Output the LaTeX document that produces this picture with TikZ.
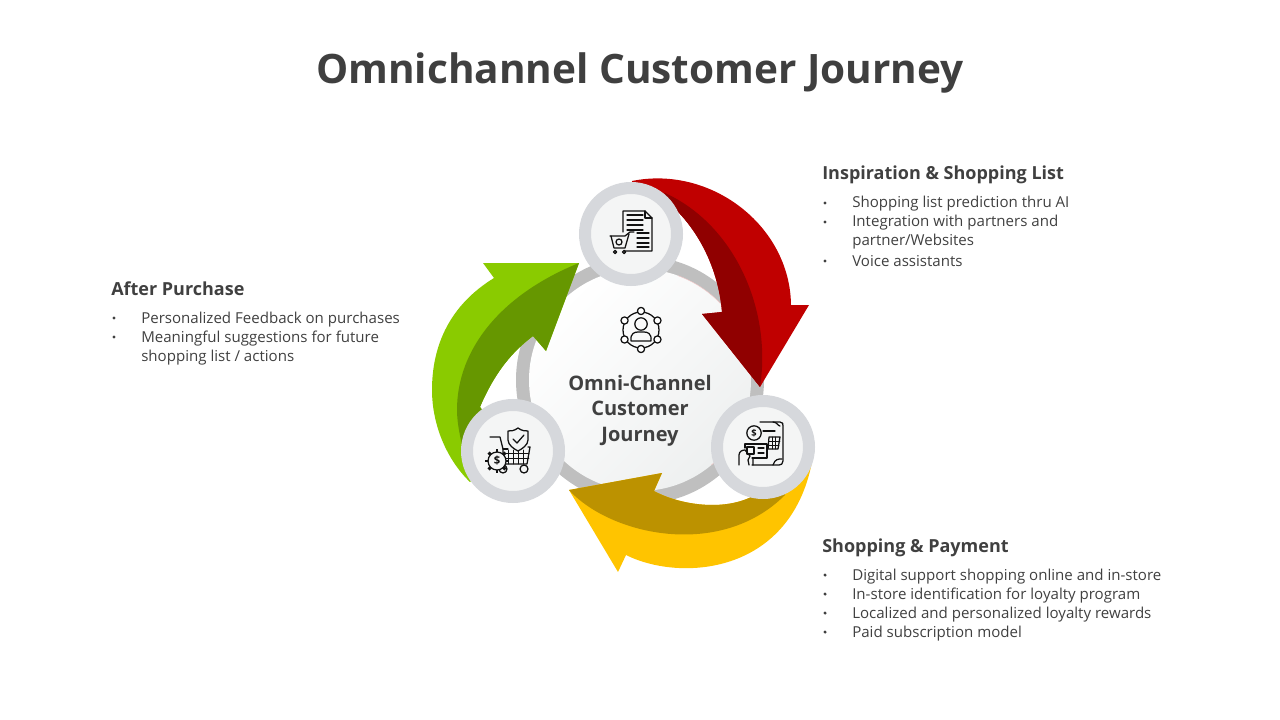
\documentclass[tikz,border=0pt]{standalone}
\usepackage{fontspec}
\setmainfont{Open Sans}
\definecolor{ttl}{HTML}{3F3F3F}
\definecolor{bodyc}{HTML}{404040}
\definecolor{ringc}{HTML}{BFBFBF}
\definecolor{cring}{HTML}{D6D8DC}
\definecolor{cfill}{HTML}{F4F5F5}
\definecolor{redA}{HTML}{C00000}
\definecolor{redB}{HTML}{900000}
\definecolor{grnA}{HTML}{8ACB00}
\definecolor{grnB}{HTML}{669700}
\definecolor{ylwA}{HTML}{FFC400}
\definecolor{ylwB}{HTML}{BC9200}
\definecolor{ico}{HTML}{111111}
\definecolor{edgep}{HTML}{F0C4C4}
\definecolor{discend}{HTML}{EEF0F0}
\tikzset{
 headtxt/.style={anchor=base west,inner sep=0pt,text=bodyc,font=\fontsize{13.5pt}{16pt}\selectfont\bfseries},
 bodytxt/.style={anchor=base west,inner sep=0pt,text=bodyc,font=\fontsize{11.3pt}{14pt}\selectfont},
 dotb/.style={circle,fill=bodyc,inner sep=0pt,minimum size=2.6pt},
 icn/.style={draw=ico,line width=0.95pt,line join=round,line cap=round},
 hub/.style={circle,fill=cfill,draw=cring,line width=9pt,minimum size=69pt,inner sep=0pt}
}
\begin{document}
\begin{tikzpicture}[x=0.75pt,y=-0.75pt]
\useasboundingbox (0,0) rectangle (1280,720);
% title
\node[anchor=base,inner sep=0pt,text=ttl,font=\fontsize{30.4pt}{38pt}\selectfont\bfseries] (title) at (640,84) {Omnichannel Customer Journey};
% central ring and disc
\fill[ringc] (640,380) circle (124);
\shade[left color=white,right color=discend,shading angle=45] (640,380) circle (111);
\draw[edgep,line width=0.35pt] (640,380) ++(-20:111) arc[start angle=-20,end angle=-70,radius=111];
\draw[edgep,line width=0.35pt] (640,380) ++(35:111) arc[start angle=35,end angle=50,radius=111];
% red arrow
\fill[redA] (631,234) -- (632,181) .. controls (710,165) and (790,225) .. (791,305) -- (809,305) -- (760,387) -- (702,314) -- (722,312) .. controls (718,265) and (695,220) .. (655,192) -- cycle;
\fill[redB] (631,234) -- (665,193) .. controls (735,225) and (772,310) .. (760,387) -- (702,314) -- (722,312) .. controls (718,265) and (695,220) .. (655,192) -- cycle;
% green arrow
\fill[grnA] (579,263) -- (483,263) -- (494,278) .. controls (450,305) and (432,345) .. (432,390) .. controls (432,425) and (447,460) .. (470,482) -- (513,451) -- (480,407) .. controls (495,372) and (512,352) .. (533,336) -- (546,351) -- cycle;
\fill[grnB] (579,263) .. controls (500,295) and (457,350) .. (457,410) .. controls (457,420) and (459,432) .. (462,445) -- (513,451) -- (480,407) .. controls (495,372) and (512,352) .. (533,336) -- (546,351) -- cycle;
% yellow arrow
\fill[ylwA] (569,490) -- (618,572) -- (626,555) .. controls (680,582) and (790,575) .. (812,462) -- (763,447) -- (755,495) .. controls (725,512) and (680,505) .. (654,491) -- (662,473) -- cycle;
\fill[ylwB] (569,490) .. controls (610,535) and (720,560) .. (785,495) -- (763,447) -- (755,495) .. controls (725,512) and (680,505) .. (654,491) -- (662,473) -- cycle;
% hub circles
\node[hub] (hubtop) at (631,234) {};
\node[hub] (hubright) at (763,447) {};
\node[hub] (hubleft) at (513,451) {};
% centre label
\node[inner sep=0pt,text=bodyc,align=center,font=\fontsize{15pt}{19.2pt}\selectfont\bfseries] (centre) at (640,410.5) {Omni-Channel\\Customer\\Journey};
% person network icon
\begin{scope}[shift={(641,330)}]
\draw[icn] (0,0) circle (18);
\foreach \a in {30,90,150,210,270,330}{\draw[icn,fill=white] (\a:19) circle (3.6);}
\draw[icn] (0,-6) circle (6.2);
\draw[icn] (-10,11) .. controls (-11,3) and (-6,2) .. (-3,2) -- (3,2) .. controls (6,2) and (11,3) .. (10,11) -- cycle;
\end{scope}
% document + cart icon
\begin{scope}
\draw[icn] (623,232) -- (623,211) -- (645,211) -- (652,218) -- (652,251) -- (625,251);
\draw[icn] (645,211) -- (645,218) -- (652,218);
\foreach \y in {215,220,225,230}{\draw[icn] (627,\y) -- (643,\y);}
\foreach \y in {233,238,243,247}{\draw[icn] (637,\y) -- (649,\y);}
\draw[icn] (610,236) -- (625,236) -- (630,232) -- (634,232);
\draw[icn] (611,236) -- (614,248) -- (625,248) -- (629,234);
\draw[icn] (619,242) circle (3);
\draw[icn] (615,252) circle (1.6) (624,252) circle (1.6);
\end{scope}
% payment icon
\begin{scope}
\draw[icn] (760,422) -- (780,422) .. controls (783,422) and (783,424) .. (783,426) -- (783,461) .. controls (783,464) and (781,465) .. (779,465) -- (752,465);
\draw[icn] (753,465) -- (753,458) (773,422) .. controls (777,422) and (778,426) .. (780,426) (773,465) .. controls (775,459) and (778,459) .. (782,459);
\draw[icn] (754,433) circle (7.2);
\node[inner sep=0pt,text=ico,font=\fontsize{7pt}{8pt}\selectfont\bfseries] (dollarA) at (754,433) {\$};
\draw[icn] (763,431) -- (775,431);
\draw[icn] (745,448) -- (745,444) -- (767,444) -- (767,458) -- (752,458);
\draw[icn] (747,447) rectangle (754,454);
\draw[icn] (758,448) -- (764,448) (758,453) -- (764,453);
\draw[icn] (739,465) -- (739,455) .. controls (739,451) and (743,450) .. (745,450) -- (750,456) -- (748,460) -- (749,465);
\draw[icn] (769,437) -- (780,437) -- (778,449) -- (768,449) -- cycle;
\foreach \x in {772,775}{\draw[icn,line width=0.6pt] (\x,437) -- (\x,449);}
\draw[icn,line width=0.6pt] (769,441) -- (780,441) (769,445) -- (779,445);
\end{scope}
% shield + cart icon
\begin{scope}
\draw[icn] (490,437) -- (500,437) -- (503,449) -- (503,464) -- (527,464) -- (530,447) -- (528,447);
\draw[icn] (503,449) -- (508,449);
\foreach \x in {508,513,518,523}{\draw[icn,line width=0.7pt] (\x,450) -- (\x,464);}
\foreach \y in {453,458}{\draw[icn,line width=0.7pt] (503,\y) -- (529,\y);}
\draw[icn,fill=cfill] (518,428) .. controls (522,431) and (525,431) .. (528,431) -- (528,440) .. controls (528,445) and (522,449) .. (518,451) .. controls (514,449) and (508,445) .. (508,440) -- (508,431) .. controls (511,431) and (514,431) .. (518,428) -- cycle;
\draw[icn] (513,439) -- (517,443) -- (524,435);
\draw[icn] (503,469) circle (4) (524,469) circle (4);
\foreach \a in {0,45,...,315}{\draw[icn,line width=2.2pt,line cap=butt] (497,461) ++(\a:8) -- ++(\a:4);}
\draw[icn,fill=cfill] (497,461) circle (9);
\node[inner sep=0pt,text=ico,font=\fontsize{8.5pt}{9pt}\selectfont\bfseries] (dollarB) at (497,461) {\$};
\end{scope}
% Inspiration
\node[headtxt] (h1) at (822,180) {Inspiration \& Shopping List};
\node[dotb] (b11) at (825,203) {};
\node[bodytxt] (t11) at (852,208) {Shopping list prediction thru AI};
\node[dotb] (b12) at (825,222) {};
\node[bodytxt] (t12) at (852,227) {Integration with partners and};
\node[bodytxt] (t12b) at (852,246) {partner/Websites};
\node[dotb] (b13) at (825,261) {};
\node[bodytxt] (t13) at (852,266) {Voice assistants};
% After purchase
\node[headtxt] (h2) at (111,295) {After Purchase};
\node[dotb] (b21) at (114,318) {};
\node[bodytxt] (t21) at (141,323) {Personalized Feedback on purchases};
\node[dotb] (b22) at (114,337) {};
\node[bodytxt] (t22) at (141,342) {Meaningful suggestions for future};
\node[bodytxt] (t22b) at (141,361) {shopping list / actions};
% Shopping & Payment
\node[headtxt] (h3) at (822,552) {Shopping \& Payment};
\node[dotb] (b31) at (825,575) {};
\node[bodytxt] (t31) at (852,580) {Digital support shopping online and in-store};
\node[dotb] (b32) at (825,594) {};
\node[bodytxt] (t32) at (852,599) {In-store identification for loyalty program};
\node[dotb] (b33) at (825,613) {};
\node[bodytxt] (t33) at (852,618) {Localized and personalized loyalty rewards};
\node[dotb] (b34) at (825,632) {};
\node[bodytxt] (t34) at (852,637) {Paid subscription model};
\end{tikzpicture}
\end{document}
